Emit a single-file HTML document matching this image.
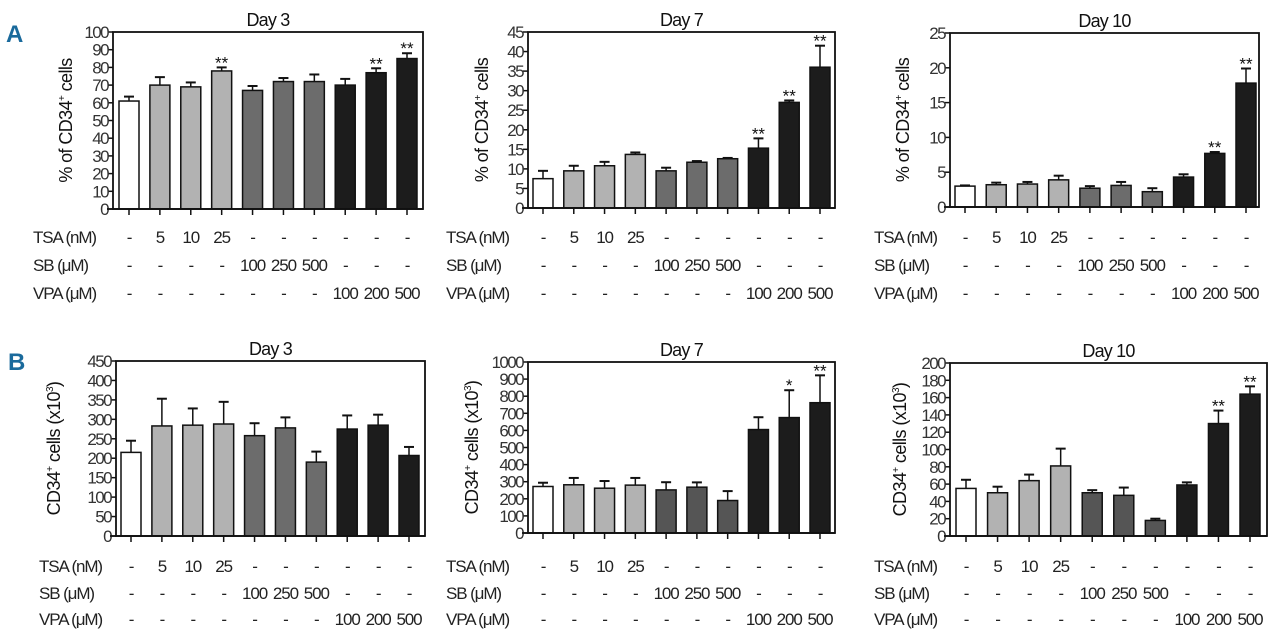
<!DOCTYPE html>
<html><head><meta charset="utf-8"><style>
html,body{margin:0;padding:0;background:#fff;}
svg{display:block;font-family:"Liberation Sans",sans-serif;}
.tk{font-size:17px;fill:#333;letter-spacing:-1.6px;}
.rw{font-size:17px;fill:#222;letter-spacing:-1.1px;}
.ttl{font-size:18px;fill:#111;letter-spacing:-0.8px;}
.yl{font-size:18px;fill:#111;letter-spacing:-0.6px;}
.pl{font-size:24px;font-weight:bold;fill:#1a6a9c;}
</style></head><body>
<svg id="fig" width="1280" height="643" viewBox="0 0 1280 643">
<text class="pl" x="6" y="42">A</text>
<text class="pl" x="8" y="370">B</text>
</svg>
<script>
const categories = ["Control","TSA 5","TSA 10","TSA 25","SB 100","SB 250","SB 500","VPA 100","VPA 200","VPA 500"];
const tsaRow = ["-","5","10","25","-","-","-","-","-","-"];
const sbRow = ["-","-","-","-","100","250","500","-","-","-"];
const vpaRow = ["-","-","-","-","-","-","-","100","200","500"];

const a3Values = [61,70,69,78,67,72,72,70,77,85];
const a3Errors = [2.5,4.5,2.5,2,2.5,2,4,3.5,2.5,3];
const a3Stars = ["","","","**","","","","","**","**"];
const a3Ticks = [0,10,20,30,40,50,60,70,80,90,100];

const a7Values = [7.5,9.5,10.8,13.7,9.5,11.7,12.6,15.3,27,36];
const a7Errors = [2,1.3,1,0.5,0.8,0.3,0.2,2.5,0.5,5.5];
const a7Stars = ["","","","","","","","**","**","**"];
const a7Ticks = [0,5,10,15,20,25,30,35,40,45];

const a10Values = [3,3.2,3.3,3.9,2.7,3.1,2.2,4.3,7.7,17.8];
const a10Errors = [0.1,0.3,0.3,0.6,0.3,0.5,0.5,0.4,0.2,2.1];
const a10Stars = ["","","","","","","","","**","**"];
const a10Ticks = [0,5,10,15,20,25];

const b3Values = [215,283,285,288,258,278,190,275,285,207];
const b3Errors = [30,70,43,57,32,27,27,35,27,22];
const b3Stars = ["","","","","","","","","",""];
const b3Ticks = [0,50,100,150,200,250,300,350,400,450];

const b7Values = [272,282,262,280,252,268,190,605,675,762];
const b7Errors = [22,40,42,42,45,28,55,72,160,160];
const b7Stars = ["","","","","","","","","*","**"];
const b7Ticks = [0,100,200,300,400,500,600,700,800,900,1000];

const b10Values = [55,50,64,81,50,47,18,59,130,164];
const b10Errors = [10,7,7,20,3,9,2,3,15,9];
const b10Stars = ["","","","","","","","","**","**"];
const b10Ticks = [0,20,40,60,80,100,120,140,160,180,200];

const NS = "http://www.w3.org/2000/svg";
const svg = document.getElementById("fig");
function mk(tag, attrs, parent){
  const e = document.createElementNS(NS, tag);
  for (const k in attrs) e.setAttribute(k, attrs[k]);
  (parent||svg).appendChild(e);
  return e;
}
const fills = ["#ffffff","#b2b2b2","#b2b2b2","#b2b2b2","#6c6c6c","#6c6c6c","#6c6c6c","#1c1c1c","#1c1c1c","#1c1c1c"];

function panel(p){
  const g = mk("g", {});
  
  
  const yMax = p.ticks[p.ticks.length-1];
  const y = v => p.bottom - (v / yMax) * (p.bottom - p.top);
  const n = categories.length;
  const x = i => p.x0 + i * (p.x1 - p.x0) / (n - 1);
  const bw = 20;
  const t = mk("text", {x:(p.left+p.right)/2, y:p.top-6, "text-anchor":"middle", class:"ttl"}, g);
  t.textContent = p.title;
  
  
  const yl = mk("text", {x:0, y:0, "text-anchor":"middle", class:"yl", transform:`translate(${p.ylx},${(p.top+p.bottom)/2}) rotate(-90)`}, g);
  yl.innerHTML = p.ylabel;
  
  
  p.ticks.forEach(v => {
    mk("line", {x1:p.left-5, x2:p.left, y1:y(v), y2:y(v), stroke:"#111", "stroke-width":1.5}, g);
    const tl = mk("text", {x:p.left-5, y:y(v)+6, "text-anchor":"end", class:"tk"}, g);
    tl.textContent = v;
    
    
  });
  p.values.forEach((v, i) => {
    const cx = x(i);
    const e = p.errors[i];
    mk("line", {x1:cx, x2:cx, y1:y(v), y2:y(v+e), stroke:"#111", "stroke-width":1.5}, g);
    mk("line", {x1:cx-5, x2:cx+5, y1:y(v+e), y2:y(v+e), stroke:"#111", "stroke-width":2}, g);
    const r = mk("rect", {x:cx-bw/2, y:y(v), width:bw, height:p.bottom-y(v), fill:p.fills[i], stroke:"#111", "stroke-width":1.5}, g);
    
    
    mk("line", {x1:cx, x2:cx, y1:p.bottom, y2:p.bottom+6, stroke:"#111", "stroke-width":1.5}, g);
    if (p.stars[i]) {
      const s = mk("text", {x:cx, y:y(v+e)+1, "text-anchor":"middle", style:"font-size:17px;fill:#111"}, g);
      s.textContent = p.stars[i];
      
      
    }
  });
  mk("rect", {x:p.left, y:p.top, width:p.right-p.left, height:p.bottom-p.top, fill:"none", stroke:"#111", "stroke-width":1.8}, g);
  mk("line", {x1:p.left-6, x2:p.right, y1:p.bottom, y2:p.bottom, stroke:"#111", "stroke-width":1.8}, g);
  const rows = [["TSA (nM)", tsaRow],["SB (\u03bcM)", sbRow],["VPA (\u03bcM)", vpaRow]];
  rows.forEach((r, ri) => {
    const ry = p.rowY[ri];
    const lab = mk("text", {x:p.rowX, y:ry, class:"rw"}, g);
    lab.textContent = r[0];
    
    
    r[1].forEach((c, i) => {
      const tx = mk("text", {x:x(i), y:ry, "text-anchor":"middle", class:"rw"}, g);
      tx.textContent = c;
      
      
    });
  });
}
const fillsB = ["#ffffff","#b2b2b2","#b2b2b2","#b2b2b2","#555","#555","#555","#1c1c1c","#1c1c1c","#1c1c1c"];
const pctLabel = '% of CD34<tspan dy="-7" font-size="10">+</tspan><tspan dy="7"> cells</tspan>';
const cntLabel = 'CD34<tspan dy="-7" font-size="10">+</tspan><tspan dy="7"> cells (x10</tspan><tspan dy="-7" font-size="10">3</tspan><tspan dy="7">)</tspan>';
const rowA = [243,271,299], rowB = [572,599,625];
panel({name:"chart-a-day3", title:"Day 3", left:113, right:423, top:32, bottom:209, x0:129, x1:407, ticks:a3Ticks, values:a3Values, errors:a3Errors, stars:a3Stars, fills:fills, ylx:72, ylabel:pctLabel, rowX:33, rowY:rowA});
panel({name:"chart-a-day7", title:"Day 7", left:528, right:835, top:32, bottom:208, x0:543, x1:820, ticks:a7Ticks, values:a7Values, errors:a7Errors, stars:a7Stars, fills:fills, ylx:488, ylabel:pctLabel, rowX:446, rowY:rowA});
panel({name:"chart-a-day10", title:"Day 10", left:950, right:1259, top:33, bottom:207, x0:965, x1:1246, ticks:a10Ticks, values:a10Values, errors:a10Errors, stars:a10Stars, fills:fills, ylx:909, ylabel:pctLabel, rowX:874, rowY:rowA});
panel({name:"chart-b-day3", title:"Day 3", left:116, right:425, top:361, bottom:536, x0:131, x1:409, ticks:b3Ticks, values:b3Values, errors:b3Errors, stars:b3Stars, fills:fills, ylx:60, ylabel:cntLabel, rowX:39, rowY:rowB});
panel({name:"chart-b-day7", title:"Day 7", left:528, right:835, top:362, bottom:533, x0:543, x1:820, ticks:b7Ticks, values:b7Values, errors:b7Errors, stars:b7Stars, fills:fillsB, ylx:478, ylabel:cntLabel, rowX:446, rowY:rowB});
panel({name:"chart-b-day10", title:"Day 10", left:950, right:1267, top:363, bottom:536, x0:966, x1:1250, ticks:b10Ticks, values:b10Values, errors:b10Errors, stars:b10Stars, fills:fillsB, ylx:906, ylabel:cntLabel, rowX:874, rowY:rowB});
</script>
</body></html>
